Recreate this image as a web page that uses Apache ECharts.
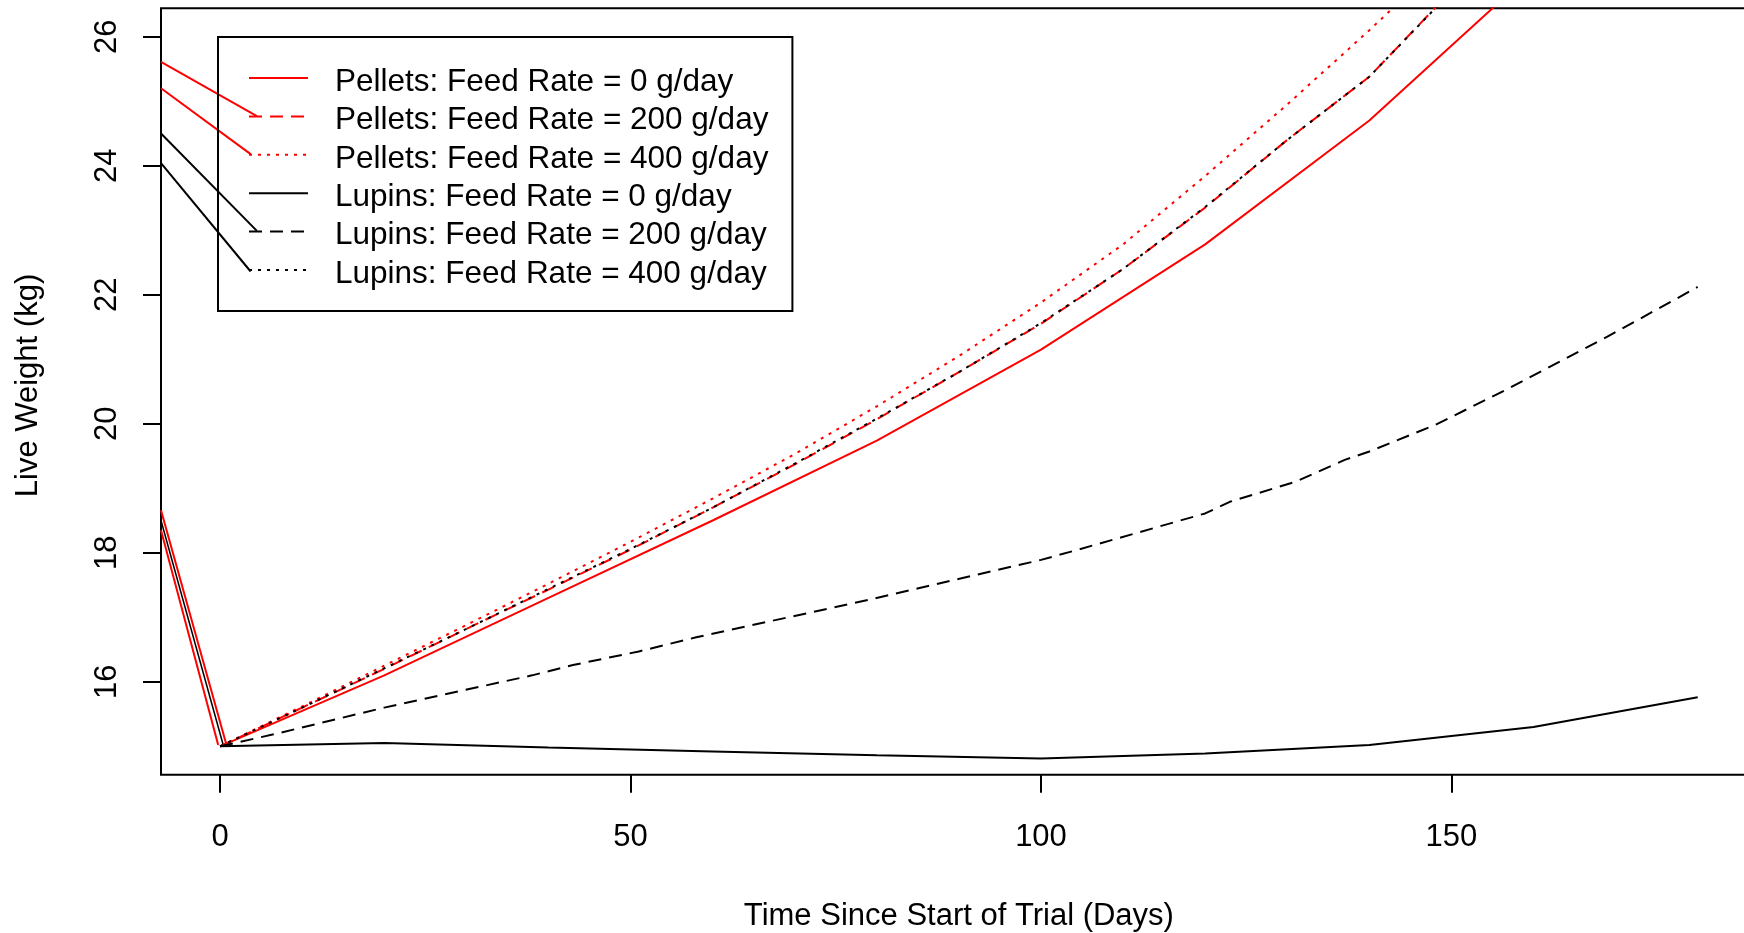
<!DOCTYPE html>
<html>
<head>
<meta charset="utf-8">
<title>Live Weight</title>
<script src="https://cdn.jsdelivr.net/npm/echarts@6/dist/echarts.min.js"></script>
<style>
  html, body { margin: 0; padding: 0; background: #fff; }
  #chart { width: 1744px; height: 933px; }
</style>
</head>
<body>
<div id="chart"></div>
<script>
// values
const xTicks = [0, 50, 100, 150];
const yTicks = [16, 18, 20, 22, 24, 26];

const seriesNames = [
  "Pellets: Feed Rate = 0 g/day",
  "Pellets: Feed Rate = 200 g/day",
  "Pellets: Feed Rate = 400 g/day",
  "Lupins: Feed Rate = 0 g/day",
  "Lupins: Feed Rate = 200 g/day",
  "Lupins: Feed Rate = 400 g/day",
];

const days20 = [0, 20, 40, 60, 80, 100, 120, 140, 160, 180];
const days10 = [0, 10, 20, 30, 40, 50, 60, 70, 80, 90, 100, 110, 120, 130, 140, 150];

const pellets0 = [15.0, 16.1, 17.3, 18.5, 19.74, 21.15, 22.78, 24.7, 27.02];
const pellets200 = [15.0, 15.6, 16.2, 16.82, 17.43, 18.05, 18.7, 19.37, 20.07, 20.8, 21.55, 22.4, 23.35, 24.4, 25.38, 26.71];
const pellets400 = [15.0, 15.62, 16.25, 16.88, 17.52, 18.17, 18.84, 19.53, 20.27, 21.05, 21.88, 22.78, 23.84, 24.95, 26.1, 27.3];
const lupins0 = [15.0, 15.05, 14.98, 14.92, 14.86, 14.81, 14.89, 15.02, 15.3, 15.76];
const lupins200 = [
  [0, 15.0], [7, 15.2], [20, 15.6], [38, 16.1], [43, 16.26], [51, 16.47], [58, 16.69],
  [79, 17.27], [100, 17.89], [104, 18.03], [120, 18.61], [123, 18.79], [131, 19.1],
  [137, 19.44], [140, 19.57], [148, 19.98], [157, 20.55], [169, 21.35], [180, 22.12],
];
const lupins400 = [15.0, 15.6, 16.21, 16.82, 17.44, 18.06, 18.7, 19.38, 20.08, 20.8, 21.56, 22.4, 23.36, 24.4, 25.38, 26.7];

// stray segments that run in from the left edge of the plot
const strayRed = [
  [[-7.2, 18.35], [-0.23, 15.02]],
  [[-7.2, 18.66], [0.71, 15.05]],
  [[-7.2, 25.61], [4.48, 24.77]],
  [[-7.2, 25.2], [3.72, 24.18]],
];
const strayBlack = [
  [[-7.2, 24.5], [4.48, 22.99]],
  [[-7.2, 24.04], [3.72, 22.36]],
];
const strayThin = [
  [[-7.2, 18.5], [0.38, 15.02]],
];

const zip = (xs, ys) => ys.map((y, i) => [xs[i], y]);

const FONT = "Liberation Sans, Arial, sans-serif";
const RED = "#ff0000";
const BLACK = "#000000";
const DASH = [13, 8];
const DOT = [3, 6];

function line(name, data, color, type) {
  return {
    name, type: "line", data, symbol: "none", silent: true,
    lineStyle: { color, width: 2, type },
    itemStyle: { color },
  };
}

function stray(segs, color, width) {
  return segs.map((d) => ({
    type: "line", data: d, symbol: "none", silent: true,
    lineStyle: { color, width }, itemStyle: { color },
  }));
}

const chart = echarts.init(document.getElementById("chart"));
chart.setOption({
  animation: false,
  grid: {
    left: 161, top: 8.3, width: 1595.8, height: 766.4,
    outerBoundsMode: "none", containLabel: false,
    show: true, borderColor: BLACK, borderWidth: 2, backgroundColor: "transparent",
  },
  legend: {
    orient: "vertical",
    left: 218, top: 37,
    padding: [25.4, 24, 21.1, 30],
    itemWidth: 59, itemHeight: 39.2, itemGap: 2.7,
    borderColor: BLACK, borderWidth: 2, borderRadius: 0,
    selectedMode: false,
    data: seriesNames,
    itemStyle: { opacity: 0, borderWidth: 0 },
    formatter: (name) => `{t|${name}}`,
    textStyle: {
      fontFamily: FONT, fontSize: 31.5, color: BLACK, padding: [8, 0, 0, 22],
      rich: { t: { fontFamily: FONT, fontSize: 31.5, color: BLACK, lineHeight: 30 } },
    },
  },
  xAxis: {
    type: "value", min: -7.2, max: 187.2,
    name: "Time Since Start of Trial (Days)",
    nameLocation: "middle", nameGap: 126,
    nameTextStyle: { fontFamily: FONT, fontSize: 31, color: BLACK },
    axisLine: { show: false, onZero: false },
    axisTick: { show: true, length: 18, customValues: xTicks, lineStyle: { color: BLACK, width: 2 } },
    axisLabel: { customValues: xTicks, margin: 47, fontFamily: FONT, fontSize: 31, color: BLACK },
    splitLine: { show: false },
  },
  yAxis: {
    type: "value", min: 14.56, max: 26.44,
    name: "Live Weight (kg)",
    nameLocation: "middle", nameGap: 117, nameRotate: 90,
    nameTextStyle: { fontFamily: FONT, fontSize: 31, color: BLACK, padding: [0, 0, 0, 12] },
    axisLine: { show: false, onZero: false },
    axisTick: { show: true, length: 18, customValues: yTicks, lineStyle: { color: BLACK, width: 2 } },
    axisLabel: { customValues: yTicks, rotate: 90, margin: 38, fontFamily: FONT, fontSize: 31, color: BLACK },
    splitLine: { show: false },
  },
  series: [
    ...stray(strayRed, RED, 2),
    ...stray(strayThin, BLACK, 1.5),
    ...stray(strayBlack, BLACK, 2),
    line(seriesNames[0], zip(days20, pellets0), RED, "solid"),
    line(seriesNames[1], zip(days10, pellets200), RED, DASH),
    line(seriesNames[2], zip(days10, pellets400), RED, DOT),
    line(seriesNames[3], zip(days20, lupins0), BLACK, "solid"),
    line(seriesNames[4], lupins200, BLACK, DASH),
    line(seriesNames[5], zip(days10, lupins400), BLACK, DOT),
  ],
});
</script>
</body>
</html>
